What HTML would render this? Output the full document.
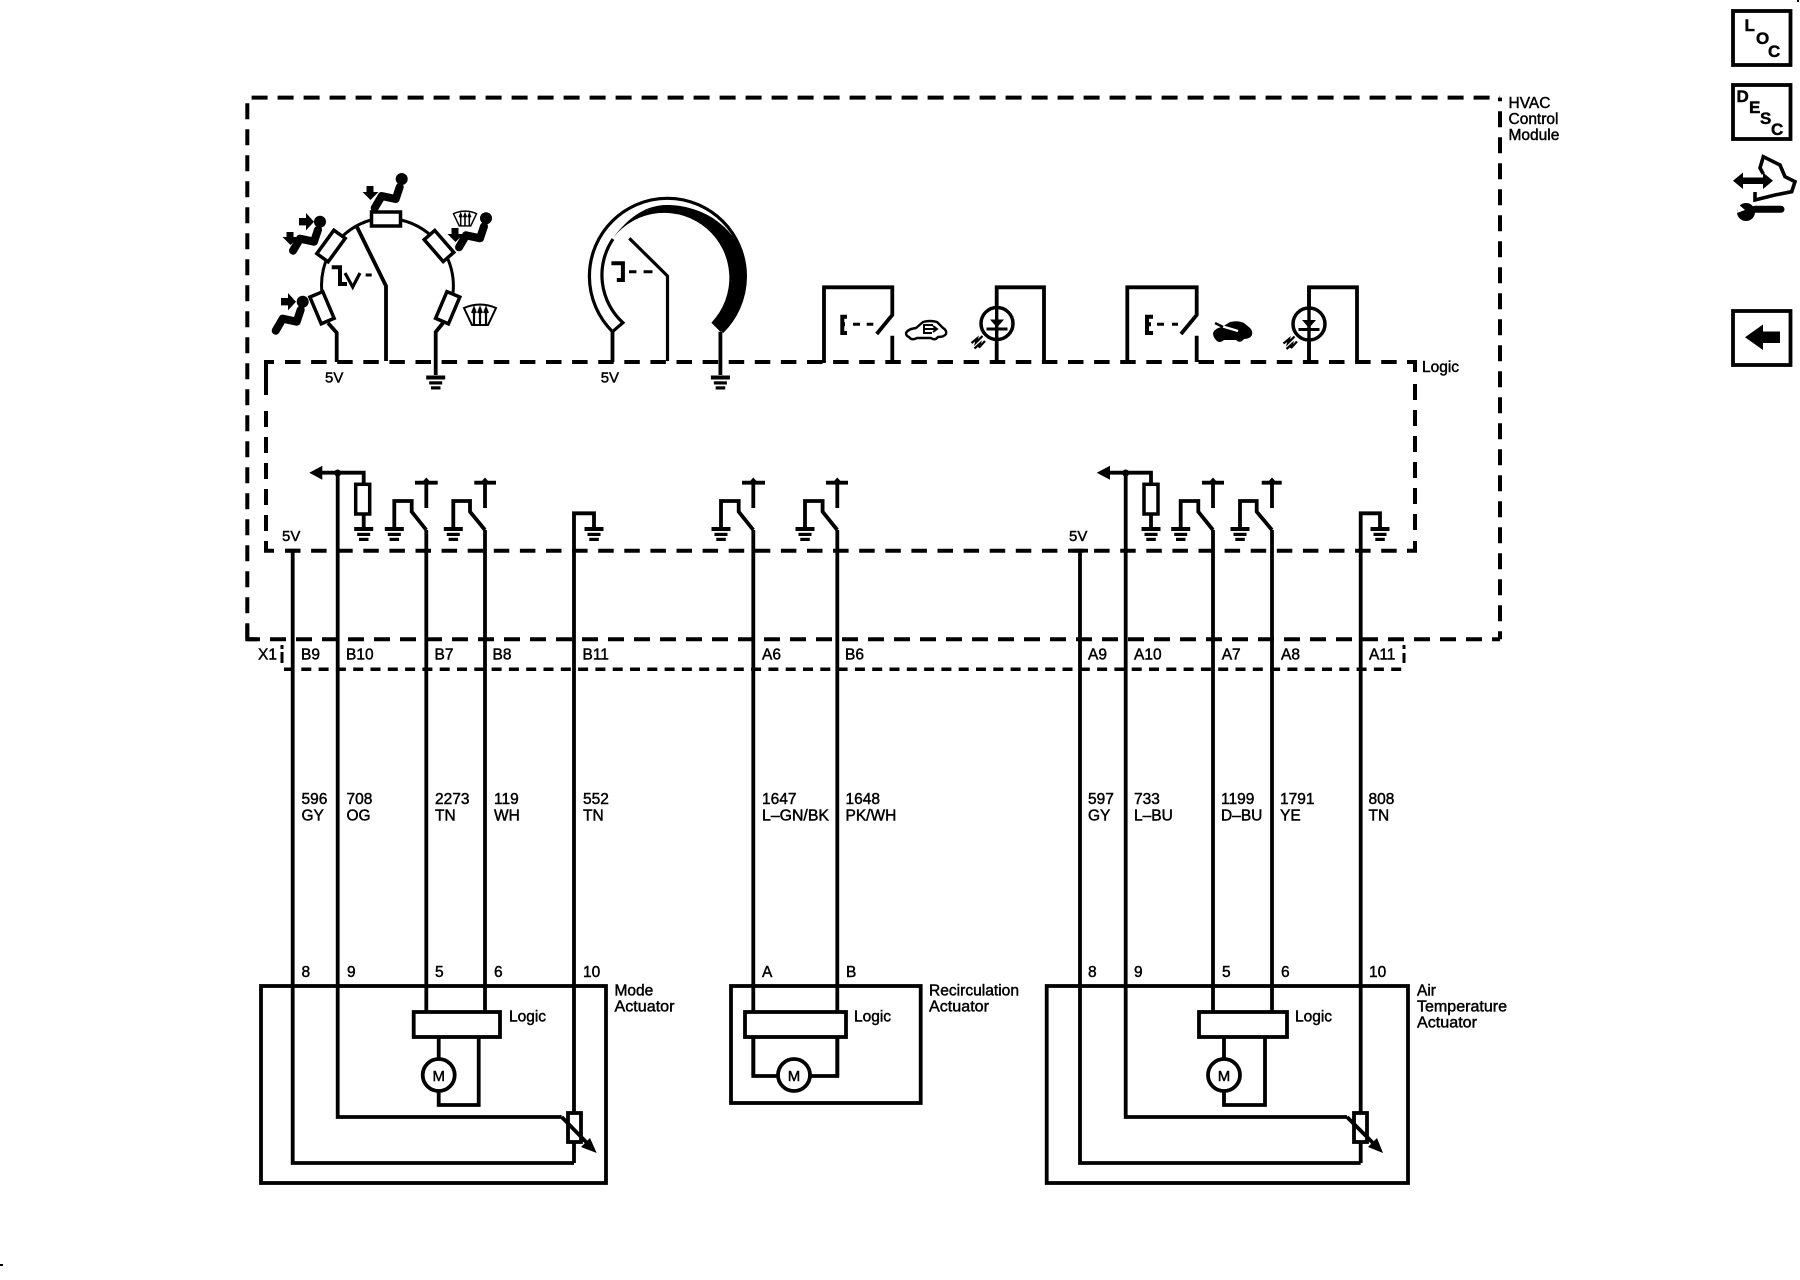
<!DOCTYPE html>
<html>
<head>
<meta charset="utf-8">
<style>
html,body{margin:0;padding:0;background:#fff}
svg{display:block}
text{font-family:"Liberation Sans",Arial,sans-serif;fill:#000;stroke:#000;stroke-width:.45}
.t{font-size:15.5px}
.b{font-size:17px;font-weight:bold;stroke:none}
</style>
</head>
<body>
<svg width="1800" height="1280" viewBox="0 0 1800 1280" xmlns="http://www.w3.org/2000/svg">
<defs>
  <g id="gnd"><rect x="-9.5" y="-2" width="19" height="4"/><rect x="-6.5" y="3.8" width="13" height="3.2"/><rect x="-4.7" y="8.8" width="9.5" height="3.2"/></g>
  <g id="person"><circle r="6"/><polyline points="-2,8 -6,20 -20,17 -27,29" fill="none" stroke="#000" stroke-width="8" stroke-linejoin="round" stroke-linecap="round"/></g>
  <g id="wind" fill="none" stroke="#000" stroke-width="2"><path d="M-16,-6 Q0,-13 16,-6 L8,11 L-8,11 Z"/><path d="M-6,11V-4M0,11V-4M6,11V-4" stroke-width="2.2"/><path d="M-8,-1 L-6,-6 L-4,-1 M-2,-1 L0,-6 L2,-1 M4,-1 L6,-6 L8,-1"/></g>
  <g id="diode"><circle r="16" fill="#fff" stroke="#000" stroke-width="3.5"/><path d="M-7,-4 H7 L0,4 Z"/><rect x="-10.5" y="4" width="21" height="3"/><path d="M-25.5,19.5 L-20,15 L-21,19 L-14.5,12.5 M-22.5,25 L-17,20 L-18,24 L-12,17.5" fill="none" stroke="#000" stroke-width="2.2"/></g>
  <g id="res"><rect x="-7" y="-14.5" width="14" height="29" fill="#fff" stroke="#000" stroke-width="3.5"/></g>
</defs>

<!-- Outer dashed module box -->
<g fill="none" stroke="#000" stroke-width="4">
  <path d="M247.3 639.3 V97.6 H1500" stroke-dasharray="16 10"/>
  <path d="M1500 639.3 V97.6" stroke-dasharray="16 10" stroke-dashoffset="8"/>
  <path d="M1500 639.3 H247.3" stroke-dasharray="16 10" stroke-dashoffset="8"/>
  <path d="M247.3 625 V639.3 H257"/>
  <!-- Logic dashed -->
  <path d="M285 362 H1408" stroke-dasharray="15.5 10.6"/>
  <path d="M285 550.7 H1408" stroke-dasharray="15.5 10.6"/>
  <path d="M274 362 H266 V395"/>
  <path d="M266 531 V405" stroke-dasharray="16 10"/>
  <path d="M266 541 V550.7 H274"/>
  <path d="M1407 362 H1415 V372"/>
  <path d="M1415 384 V530" stroke-dasharray="16 10"/>
  <path d="M1415 541 V550.7 H1407"/>
  <!-- connector dashes -->
  <path d="M284 669.3 H1404" stroke-dasharray="10 7.3" stroke-width="3.5"/>
  <path d="M282 645 V649 M282 652 V663 M1404 645 V649 M1404 653 V663" stroke-width="3"/>
</g>

<!-- Wires -->
<g fill="none" stroke="#000" stroke-width="3.8" stroke-linejoin="miter">
  <path d="M285 550.7 H300 M292.7 550.7 V1163 H574"/>
  <path d="M337.7 473 V1117 H561.7"/>
  <path d="M426.3 530 V1012"/>
  <path d="M485 530 V1012"/>
  <path d="M574 1163 V1142 M574 1113 V513.3 H594 V527"/>
  <path d="M753.3 530 V1076 H778 M837.3 530 V1076 H810"/>
  <path d="M1073 550.7 H1088 M1080 550.7 V1163 H1360.7"/>
  <path d="M1125.7 473 V1117 H1347"/>
  <path d="M1213 530 V1012"/>
  <path d="M1272 530 V1012"/>
  <path d="M1360.7 1163 V1142 M1360.7 1113 V513.3 H1380 V527"/>

  <!-- Lower-left control symbols -->
  <path d="M322 472.7 H363.7 V527"/>
  <path d="M394.3 527 V501 H411.7 V511.7 L426.3 530"/>
  <path d="M453.3 527 V501 H470 V511.7 L485 530"/>
  <path d="M426.3 508 V482.7 M415 482.7 H437.7 M485 508 V482.7 M474.3 482.7 H496"/>

  <path d="M721 527 V501 H738.7 V511.7 L753.3 530"/>
  <path d="M805 527 V501 H822.6 V511.7 L837.3 530"/>
  <path d="M753.3 508 V482.7 M742 482.7 H765 M837.3 508 V482.7 M826 482.7 H848"/>

  <path d="M1110 472.7 H1151 V527"/>
  <path d="M1180.7 527 V501 H1198.3 V511.7 L1213 530"/>
  <path d="M1240 527 V501 H1256.7 V511.7 L1272 530"/>
  <path d="M1213 508 V482.7 M1202 482.7 H1224 M1272 508 V482.7 M1261.7 482.7 H1281.7"/>

  <!-- Actuator boxes -->
  <rect x="261" y="986" width="345" height="197"/>
  <rect x="731" y="986" width="189.7" height="117"/>
  <rect x="1046.7" y="986" width="361.3" height="197"/>
  <!-- Logic blocks -->
  <rect x="413.7" y="1012" width="86.3" height="25" fill="#fff"/>
  <rect x="745" y="1012" width="101" height="25" fill="#fff"/>
  <rect x="1199" y="1012" width="88" height="25" fill="#fff"/>
  <!-- motors -->
  <path d="M438.7 1037 V1105 H478.7 V1037"/>
  <path d="M753.3 1037 V1076 M837.3 1037 V1076"/>
  <path d="M1224 1037 V1105 H1265 V1037"/>
  <circle cx="438.7" cy="1075" r="16" fill="#fff"/>
  <circle cx="794" cy="1075" r="16" fill="#fff"/>
  <circle cx="1224" cy="1075" r="16" fill="#fff"/>
  <!-- pots -->
  <rect x="568" y="1113" width="13" height="29" fill="#fff"/>
  <rect x="1354" y="1113" width="13" height="29" fill="#fff"/>
  <path d="M561.7 1117 L590 1146"/>
  <path d="M1347 1117 L1376 1146"/>

  <!-- Top: mode switch -->
  <path d="M322 293 A67.5 67.5 0 0 1 371 220 M401 220 A67.5 67.5 0 0 1 453 293" stroke-width="3"/>
  <path d="M328 323 L336.7 332.7 V362"/>
  <path d="M443 323 L435.7 332 V375"/>
  <path d="M357 227 L386 286 V361"/>
  <path d="M331.7 267.3 H340 V284 H347" stroke-width="4"/>
  <path d="M345 273 L352.7 287 L360 273" stroke-width="3.2"/>
  <path d="M365.7 275 H371.7" stroke-width="3"/>

  <!-- Gauge -->
  <path d="M612.5 331.7 A78 78 0 1 1 722 332" stroke-width="3.2"/>
  <path d="M612.5 331.7 L622.9 322.7 A64.5 64.5 0 0 1 613 239" stroke-width="3.2"/>
  <path d="M629.3 238.3 L667.5 276 V361" stroke-width="3.2"/>
  <path d="M611.4 263.3 H622.9 V280 H616.8" stroke-width="4"/>
  <path d="M629 271.7 H636.4 M643.6 271.7 H652.5" stroke-width="3"/>
  <path d="M612.5 331.7 V362"/>
  <path d="M720.4 331.7 V375"/>

  <!-- Switch boxes -->
  <path d="M824 363 V287.3 H892.3 V315 L876.7 334 M892.3 335.7 V362"/>
  <path d="M847 316.7 H842.3 V333 H847 M842.3 324.3 H845" stroke-width="4"/>
  <path d="M853 324.3 H860 M866.7 324.3 H873.3" stroke-width="3"/>
  <path d="M996.7 362 V287.3 H1044 V362"/>
  <path d="M1127.3 363 V287.3 H1196.7 V315 L1181 334 M1196.7 335.7 V362"/>
  <path d="M1153 316.7 H1147 V333 H1153 M1147 324.3 H1151" stroke-width="4"/>
  <path d="M1157 324.3 H1164 M1172 324.3 H1178" stroke-width="3"/>
  <path d="M1309 362 V287.3 H1357 V362"/>
</g>

<!-- Gauge black band -->
<path d="M720.4 331.7 A78 78 0 0 0 742 252 C725 215 690 205 667 205 C645 205 628 218 613 238 A65 65 0 1 1 711.4 322.7 Z"/>

<!-- Mode switch resistors -->
<use href="#res" transform="translate(386,219) rotate(90)"/>
<use href="#res" transform="translate(331,246) rotate(36)"/>
<use href="#res" transform="translate(439,246) rotate(-41)"/>
<use href="#res" transform="translate(322,307.7) rotate(-23)"/>
<use href="#res" transform="translate(447.7,307.7) rotate(23)"/>

<!-- Persons -->
<use href="#person" transform="translate(401.7,179)"/>
<use href="#person" transform="translate(320,221.7)"/>
<use href="#person" transform="translate(302.7,301.7)"/>
<use href="#person" transform="translate(486,218.3)"/>
<path d="M366.5 186h7v6h5l-8 8-8-8h4z"/>
<path d="M299 218h7v-5l8 8.7-8 8.7v-5h-7z"/>
<path d="M286.5 232h7v5h5l-8 8-8-8h4z"/>
<path d="M281 298h7v-5l8 8.7-8 8.7v-5h-7z"/>
<path d="M451.5 228h7v6h5l-8 8-8-8h4z"/>
<use href="#wind" transform="translate(465,218) scale(.72)"/>
<use href="#wind" transform="translate(480,314)"/>

<!-- Cars -->
<path d="M906 333 Q908 329 916 328 L923 322 Q930 320 937 322 L943 328 Q947 330 946 334 Q944 337 938 337 Q935 341 931 338 L917 338 Q912 341 909 337 Q906 336 906 333 Z" fill="none" stroke="#000" stroke-width="2.4" stroke-linejoin="round"/>
<path d="M933 325 H924 V333 H932 M924 329 H937 M933 326 L937 329 L933 332" fill="none" stroke="#000" stroke-width="2"/>
<path d="M1213 333 Q1215 328 1222 327 L1230 322 Q1238 320 1244 323 L1250 328 Q1253 331 1252 335 Q1250 339 1244 339 Q1240 344 1236 340 L1224 340 Q1219 344 1216 340 Q1213 337 1213 333 Z"/>
<path d="M1218 325 L1238 331" stroke="#fff" stroke-width="2.4"/>
<path d="M1215 323 L1223 327" stroke="#000" stroke-width="2.4"/>

<!-- Diodes -->
<use href="#diode" transform="translate(997,323.5)"/>
<use href="#diode" transform="translate(1309,324)"/>
<path d="M996.7 287.3 V362 M1309 287.3 V362" stroke="#000" stroke-width="3.4"/>

<!-- Grounds -->
<use href="#gnd" x="435.7" y="377.5"/>
<use href="#gnd" x="720.4" y="377.5"/>
<use href="#gnd" x="363.7" y="529"/>
<use href="#gnd" x="394.3" y="529"/>
<use href="#gnd" x="453.3" y="529"/>
<use href="#gnd" x="594" y="529"/>
<use href="#gnd" x="721" y="529"/>
<use href="#gnd" x="805" y="529"/>
<use href="#gnd" x="1151" y="529"/>
<use href="#gnd" x="1180.7" y="529"/>
<use href="#gnd" x="1240" y="529"/>
<use href="#gnd" x="1380" y="529"/>

<!-- Resistors at logic -->
<rect x="355.7" y="484.3" width="14" height="29.7" fill="#fff" stroke="#000" stroke-width="3.5"/>
<rect x="1144" y="484.3" width="14" height="29.7" fill="#fff" stroke="#000" stroke-width="3.5"/>

<!-- Arrows & dots -->
<path d="M309.3 472.7 L322.3 465.7 V479.7 Z"/>
<path d="M1096.7 472.7 L1110 465.7 V479.7 Z"/>
<circle cx="337.7" cy="473" r="3.5"/><circle cx="1125.7" cy="473" r="3.5"/>
<g>
<path d="M426.3 477.5 l4.5 5h-9z"/><path d="M485 477.5 l4.5 5h-9z"/>
<path d="M753.3 477.5 l4.5 5h-9z"/><path d="M837.3 477.5 l4.5 5h-9z"/>
<path d="M1213 477.5 l4.5 5h-9z"/><path d="M1272 477.5 l4.5 5h-9z"/>
</g>
<path d="M596.7 1153 L581 1147 L590 1138 Z"/>
<path d="M1383 1153 L1368 1147 L1377 1138 Z"/>

<!-- Labels -->
<g class="t">
<text x="1508.5" y="108">HVAC</text><text x="1508.5" y="124">Control</text><text x="1508.5" y="140">Module</text>
<text x="1422" y="372">Logic</text>
<text x="325" y="382.3" style="font-size:15px">5V</text>
<text x="600.7" y="382.3" style="font-size:15px">5V</text>
<text x="282" y="541" style="font-size:15px">5V</text>
<text x="1069" y="541" style="font-size:15px">5V</text>

<text x="258" y="659.3">X1</text>
<text x="301" y="659.3">B9</text><text x="346" y="659.3">B10</text><text x="434.5" y="659.3">B7</text><text x="492.5" y="659.3">B8</text><text x="582.5" y="659.3">B11</text>
<text x="762" y="659.3">A6</text><text x="845" y="659.3">B6</text>
<text x="1088" y="659.3">A9</text><text x="1134" y="659.3">A10</text><text x="1221.7" y="659.3">A7</text><text x="1281" y="659.3">A8</text><text x="1369" y="659.3">A11</text>

<text x="301.5" y="804">596</text><text x="301.5" y="820.5">GY</text>
<text x="346.5" y="804">708</text><text x="346.5" y="820.5">OG</text>
<text x="435" y="804">2273</text><text x="435" y="820.5">TN</text>
<text x="494" y="804">119</text><text x="494" y="820.5">WH</text>
<text x="583" y="804">552</text><text x="583" y="820.5">TN</text>
<text x="762" y="804">1647</text><text x="762" y="820.5" textLength="67" lengthAdjust="spacingAndGlyphs">L–GN/BK</text>
<text x="845.5" y="804">1648</text><text x="845.5" y="820.5">PK/WH</text>
<text x="1088" y="804">597</text><text x="1088" y="820.5">GY</text>
<text x="1134" y="804">733</text><text x="1134" y="820.5">L–BU</text>
<text x="1221" y="804">1199</text><text x="1221" y="820.5">D–BU</text>
<text x="1280" y="804">1791</text><text x="1280" y="820.5">YE</text>
<text x="1368.5" y="804">808</text><text x="1368.5" y="820.5">TN</text>

<text x="301.5" y="977">8</text><text x="347" y="977">9</text><text x="435" y="977">5</text><text x="494" y="977">6</text><text x="583" y="977">10</text>
<text x="762" y="977">A</text><text x="846" y="977">B</text>
<text x="1088" y="977">8</text><text x="1134" y="977">9</text><text x="1222" y="977">5</text><text x="1281" y="977">6</text><text x="1369" y="977">10</text>

<text x="509" y="1021.7">Logic</text><text x="854" y="1021.7">Logic</text><text x="1295" y="1021.7">Logic</text>
<text x="614.5" y="995.7">Mode</text><text x="614.5" y="1011.7" textLength="60" lengthAdjust="spacingAndGlyphs">Actuator</text>
<text x="929" y="995.7" textLength="90" lengthAdjust="spacingAndGlyphs">Recirculation</text><text x="929" y="1011.7" textLength="60" lengthAdjust="spacingAndGlyphs">Actuator</text>
<text x="1417" y="995.7">Air</text><text x="1417" y="1011.7" textLength="90" lengthAdjust="spacingAndGlyphs">Temperature</text><text x="1417" y="1027.3" textLength="60" lengthAdjust="spacingAndGlyphs">Actuator</text>
<text x="438.7" y="1080.8" text-anchor="middle" style="font-size:15px">M</text>
<text x="794" y="1080.8" text-anchor="middle" style="font-size:15px">M</text>
<text x="1224" y="1080.8" text-anchor="middle" style="font-size:15px">M</text>
</g>

<!-- Right side icons -->
<g fill="none" stroke="#000" stroke-width="3.8">
  <rect x="1733" y="11" width="57.5" height="54"/>
  <rect x="1733" y="85" width="57.5" height="54"/>
  <rect x="1733" y="311" width="57.5" height="54"/>
</g>
<g class="b">
  <text x="1744.5" y="31">L</text><text x="1756" y="44">O</text><text x="1768" y="57">C</text>
  <text x="1736.5" y="102">D</text><text x="1749" y="113">E</text><text x="1760" y="124">S</text><text x="1771" y="135">C</text>
</g>
<path d="M1745 337.3 L1763 324.5 V331.5 H1780 V343 H1763 V350 Z"/>
<path d="M1733 180.7 L1743 172.5 V177.5 H1763 V172.5 L1773 180.7 L1763 189 V184 H1743 V189 Z"/>
<path d="M1763.3 174 L1760 168 L1763.3 156.7 L1780 165 L1785 176.7 L1795 181.7 L1791.7 191.7 L1775 195 L1755 200 L1755 192" fill="none" stroke="#000" stroke-width="3.6"/>
<path d="M1755 209.3 H1781" stroke="#000" stroke-width="7" stroke-linecap="round"/>
<circle cx="1746" cy="212" r="9"/>
<path d="M1738 204 l7 6 -8 3z" fill="#fff"/>
<rect x="0" y="1264" width="3" height="2"/>
<rect x="1797" y="0" width="2" height="2"/>
</svg>
</body>
</html>
